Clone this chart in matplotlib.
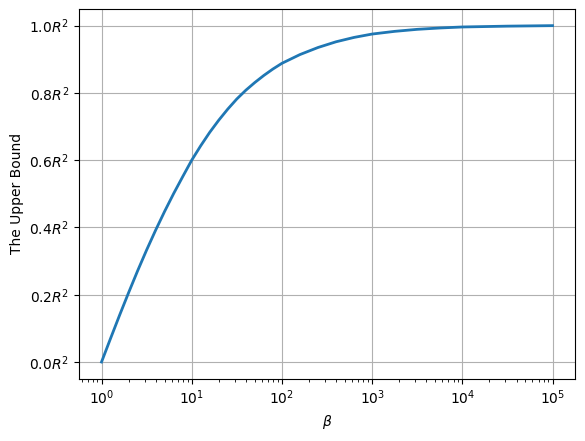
import numpy as np
from matplotlib import pyplot as plt

# values (beta given as powers of ten)
log_beta = [0.0, 0.1, 0.2, 0.3, 0.4, 0.5, 0.6, 0.7, 0.8, 0.9, 1.0,
            1.1, 1.2, 1.3, 1.4, 1.5, 1.6, 1.7, 1.8, 1.9, 2.0,
            2.2, 2.4, 2.6, 2.8, 3.0, 3.25, 3.5, 3.75, 4.0, 4.5, 5.0]
upper_bound = [0.0, 0.070, 0.139, 0.206, 0.271, 0.333, 0.392, 0.448, 0.501, 0.551, 0.600,
               0.643, 0.683, 0.719, 0.752, 0.782, 0.808, 0.831, 0.852, 0.871, 0.888,
               0.914, 0.935, 0.952, 0.965, 0.975, 0.983, 0.989, 0.993, 0.996, 0.9985, 1.0]
yticks = [0.0, 0.2, 0.4, 0.6, 0.8, 1.0]
ytick_labels = [r"$%.1fR^2$" % v for v in yticks]

beta = np.power(10.0, log_beta)

fig, ax = plt.subplots(figsize=(5.85, 4.41), dpi=100)
fig.subplots_adjust(left=0.135, right=0.983, top=0.98, bottom=0.141)

ax.plot(beta, upper_bound, linewidth=2)
ax.set_xscale("log")
ax.set_yticks(yticks)
ax.set_yticklabels(ytick_labels)
ax.set_xlabel(r"$\beta$")
ax.set_ylabel("The Upper Bound")
ax.grid(True)

fig.savefig("out.png")
